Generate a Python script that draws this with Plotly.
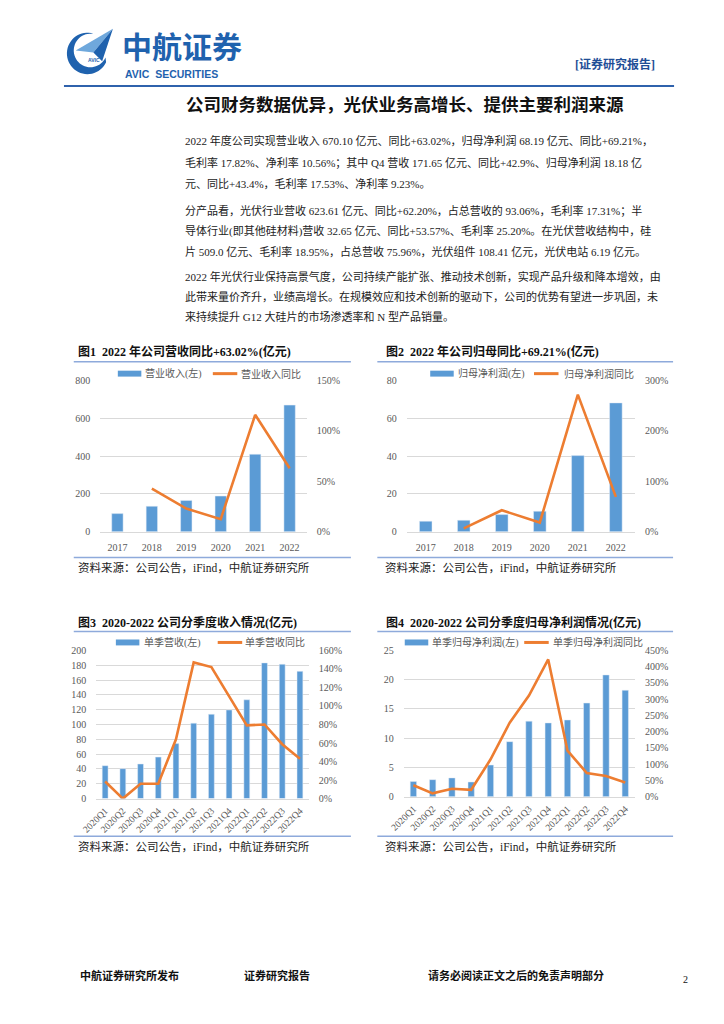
import numpy as np
import plotly.graph_objects as go

W, H = 724, 1024
def px(x): return x / W
def py(y): return 1 - y / H

# ---------------- data ----------------
years = ["2017", "2018", "2019", "2020", "2021", "2022"]
revenue = [96, 135, 166, 189, 410, 670.10]
revenue_yoy = [None, 42.7, 23.0, 12.5, 116.0, 63.02]
profit = [5.6, 6.1, 9.1, 10.85, 40.3, 68.19]
profit_yoy = [None, 6.6, 42.7, 18.4, 272.0, 69.21]

quarters = ["2020Q1", "2020Q2", "2020Q3", "2020Q4", "2021Q1", "2021Q2",
            "2021Q3", "2021Q4", "2022Q1", "2022Q2", "2022Q3", "2022Q4"]
q_revenue = [44.4, 40.4, 46.7, 56.0, 74.2, 101.8, 113.8, 119.6, 133.3, 183.1, 181.3, 171.65]
q_revenue_yoy = [18.5, 0.0, 16.0, 16.0, 64.0, 147.0, 142.0, 111.0, 79.0, 80.0, 58.7, 42.9]
q_profit = [2.6, 2.9, 3.2, 2.5, 5.4, 9.4, 12.9, 12.6, 13.1, 16.0, 20.8, 18.18]
q_profit_yoy = [35, 10, 24, 21, 114, 227.5, 311, 422, 141.6, 72.8, 63.7, 43.4]

chart_titles = ["图1\u00a0\u00a02022 年公司营收同比+63.02%(亿元)",
                "图2\u00a0\u00a02022 年公司归母同比+69.21%(亿元)",
                "图3\u00a0\u00a02020-2022 公司分季度收入情况(亿元)",
                "图4\u00a0\u00a02020-2022 公司分季度归母净利润情况(亿元)"]
bar_names = ["营业收入(左)", "归母净利润(左)", "单季营收(左)", "单季归母净利润(左)"]
line_names = ["营业收入同比", "归母净利润同比", "单季营收同比", "单季归母净利润同比"]
source_text = "资料来源：公司公告，iFind，中航证券研究所"

para_lines = [
    "2022 年度公司实现营业收入 670.10 亿元、同比+63.02%，归母净利润 68.19 亿元、同比+69.21%，",
    "毛利率 17.82%、净利率 10.56%；其中 Q4 营收 171.65 亿元、同比+42.9%、归母净利润 18.18 亿",
    "元、同比+43.4%，毛利率 17.53%、净利率 9.23%。",
    "分产品看，光伏行业营收 623.61 亿元、同比+62.20%，占总营收的 93.06%，毛利率 17.31%；半",
    "导体行业(即其他硅材料)营收 32.65 亿元、同比+53.57%、毛利率 25.20%。在光伏营收结构中，硅",
    "片 509.0 亿元、毛利率 18.95%，占总营收 75.96%，光伏组件 108.41 亿元，光伏电站 6.19 亿元。",
    "2022 年光伏行业保持高景气度，公司持续产能扩张、推动技术创新，实现产品升级和降本增效，由",
    "此带来量价齐升，业绩高增长。在规模效应和技术创新的驱动下，公司的优势有望进一步巩固，未",
    "来持续提升 G12 大硅片的市场渗透率和 N 型产品销量。",
]
para_y = [136, 158, 180, 207, 228, 248, 274, 294, 314]

BLUE = "#5b9bd5"
ORANGE = "#ed7d31"
GRID = "#d9d9d9"
TICK = "#595959"
SEP = "#8eaadb"
SERIF = "Liberation Serif, Noto Sans CJK SC"

charts = [
    dict(cats=years, bars=revenue, line=revenue_yoy, x0=87, x1=298, y0=379, y1=532,
         yr=[0, 800], dy=200, yr2=[0, 150], dy2=50, rot=0,
         tx=62, ty=350, sep=(60, 343, 360, 558), src=(62, 568),
         leg=(105, 131, 202, 229, 372)),
    dict(cats=years, bars=profit, line=profit_yoy, x0=400, x1=633, y0=379, y1=532,
         yr=[0, 80], dy=20, yr2=[0, 300], dy2=100, rot=0,
         tx=377, ty=350, sep=(370, 672, 360, 558), src=(376, 568),
         leg=(424, 450, 530, 559, 372)),
    dict(cats=quarters, bars=q_revenue, line=q_revenue_yoy, x0=83, x1=300, y0=652, y1=802,
         yr=[0, 200], dy=20, yr2=[0, 160], dy2=20, rot=-45,
         tx=62, ty=624, sep=(60, 343, 633, 840), src=(62, 850),
         leg=(103, 130, 207, 233, 644)),
    dict(cats=quarters, bars=q_profit, line=q_profit_yoy, x0=397, x1=633, y0=652, y1=800,
         yr=[0, 25], dy=5, yr2=[0, 450], dy2=50, rot=-45,
         tx=377, ty=624, sep=(370, 672, 633, 840), src=(376, 850),
         leg=(398, 424, 520, 547, 644)),
]

fig = go.Figure()
layout = dict(width=W, height=H, margin=dict(l=0, r=0, t=0, b=0),
              paper_bgcolor="white", plot_bgcolor="white", showlegend=False,
              bargap=0.67)
annotations = []
shapes = []

def text(x, y, s, size, color="#222", bold=False, family=SERIF, xanchor="left", **kw):
    annotations.append(dict(x=px(x), y=py(y), xref="paper", yref="paper", text=s,
                            showarrow=False, xanchor=xanchor, yanchor="middle",
                            font=dict(size=size, color=color, family=family,
                                      weight="bold" if bold else "normal"), **kw))

def hline(x0, x1, y, color, width):
    shapes.append(dict(type="line", xref="paper", yref="paper", x0=px(x0), x1=px(x1),
                       y0=py(y), y1=py(y), line=dict(color=color, width=width)))

for k, c in enumerate(charts, start=1):
    xa = "x" if k == 1 else f"x{k}"
    ya = f"y{2*k-1}" if k > 1 else "y"
    yb = f"y{2*k}"
    fig.add_trace(go.Bar(x=c["cats"], y=c["bars"], name=bar_names[k-1], marker_color=BLUE,
                         xaxis=xa, yaxis=ya))
    fig.add_trace(go.Scatter(x=c["cats"], y=c["line"], name=line_names[k-1], mode="lines",
                             line=dict(color=ORANGE, width=2.6), xaxis=xa, yaxis=yb))
    xkey = "xaxis" if k == 1 else f"xaxis{k}"
    ykey = "yaxis" if k == 1 else f"yaxis{2*k-1}"
    ykey2 = f"yaxis{2*k}"
    layout[xkey] = dict(domain=[px(c["x0"]), px(c["x1"])], anchor=ya, type="category",
                        categoryorder="array", categoryarray=c["cats"],
                        showgrid=False, zeroline=False, showline=True, linecolor=GRID,
                        linewidth=1, ticks="", tickangle=c["rot"],
                        tickfont=dict(size=10 if c["rot"] == 0 else 9.5, color=TICK, family=SERIF),
                        ticklabelstandoff=6 if c["rot"] == 0 else 2)
    layout[ykey] = dict(domain=[py(c["y1"]), py(c["y0"])], anchor=xa, range=c["yr"],
                        dtick=c["dy"], tick0=0, showgrid=True, gridcolor=GRID, gridwidth=1,
                        zeroline=False, showline=False, ticks="",
                        tickfont=dict(size=10, color=TICK, family=SERIF),
                        ticklabelstandoff=9)
    layout[ykey2] = dict(overlaying=ya, anchor=xa, side="right", range=c["yr2"],
                         dtick=c["dy2"], tick0=0, ticksuffix="%", showgrid=False,
                         zeroline=False, showline=False, ticks="",
                         tickfont=dict(size=10, color=TICK, family=SERIF),
                         ticklabelstandoff=9)
    # chart title, separators, source
    text(c["tx"], c["ty"], chart_titles[k-1], 12, "#111", bold=True)
    sx0, sx1, st, sb = c["sep"]
    hline(sx0, sx1, st, SEP, 1.5)
    hline(sx0, sx1, sb, SEP, 1.5)
    text(c["src"][0], c["src"][1], source_text, 11.5, "#222")
    # legend
    rx, tx1, lx, tx2, ly = c["leg"]
    shapes.append(dict(type="rect", xref="paper", yref="paper", x0=px(rx), x1=px(rx + 24),
                       y0=py(ly + 3), y1=py(ly - 3), fillcolor=BLUE, line=dict(width=0)))
    text(tx1, ly, bar_names[k-1], 10, TICK)
    hline(lx, lx + 25, ly, ORANGE, 3)
    text(tx2, ly, line_names[k-1], 10, TICK)

# ---------------- page header ----------------
LOGO = "#1f62ae"
def arc(cx, cy, r, a0, a1, n=40):
    a = np.radians(np.linspace(a0, a1, n))
    return [(cx + r * np.cos(t), cy + r * np.sin(t)) for t in a]
outer = arc(74, 48, 21, -80, -335)
inner = arc(77, 45, 17, -335, -80)
pts = outer + inner
path = "M " + " L ".join(f"{px(x):.5f},{py(y):.5f}" for x, y in pts) + " Z"
shapes.append(dict(type="path", xref="paper", yref="paper", path=path,
                   fillcolor=LOGO, line=dict(width=0)))
def tri(p, color):
    path = "M " + " L ".join(f"{px(x):.5f},{py(y):.5f}" for x, y in p) + " Z"
    shapes.append(dict(type="path", xref="paper", yref="paper", path=path,
                       fillcolor=color, line=dict(width=0)))
tri([(62, 45), (100, 23), (80, 47)], "#6fa8dc")
tri([(80, 47), (100, 23), (89, 56)], LOGO)
text(81, 55, "AVIC", 5, LOGO, bold=True, family="Liberation Sans", xanchor="center",
     borderpad=0)

text(108, 39, "中航证券", 30, LOGO, bold=True, family="Noto Sans CJK SC", borderpad=0)
text(111, 69, "AVIC\u00a0\u00a0SECURITIES", 10.5, LOGO, bold=True, family="Liberation Sans",
     borderpad=0)
text(570, 59, "[证券研究报告]", 12, "#1f4e96", bold=True)
hline(50, 673, 81, "#2f62ac", 2)

text(173, 100, "公司财务数据优异，光伏业务高增长、提供主要利润来源", 17.5, "#111", bold=True)
for s, y in zip(para_lines, para_y):
    text(172, y, s, 11, "#222")

# ---------------- footer ----------------
text(64, 981, "中航证券研究所发布", 11, "#111", bold=True)
text(232, 981, "证券研究报告", 11, "#111", bold=True)
text(420, 981, "请务必阅读正文之后的免责声明部分", 11, "#111", bold=True)
text(685, 985, "2", 10, "#111", xanchor="center")

layout["annotations"] = annotations
layout["shapes"] = shapes
fig.update_layout(**layout)
fig.write_html("out.html", config={"displayModeBar": False},
               post_script="document.body.style.margin='0';document.body.style.overflow='hidden';")
